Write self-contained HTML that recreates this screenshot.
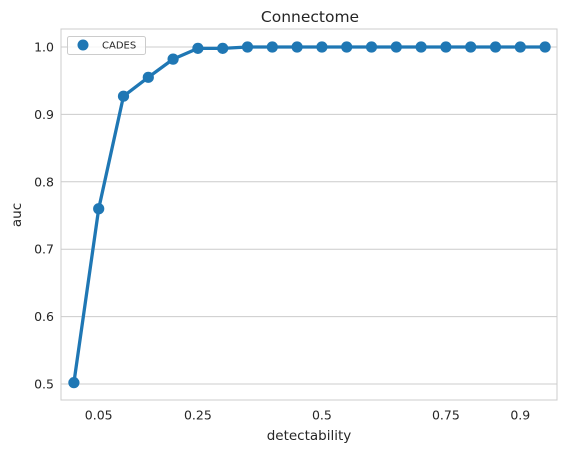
<!DOCTYPE html>
<html><head><meta charset="utf-8"><style>
body{margin:0;background:#fff;}
svg text{font-family:"DejaVu Sans","Liberation Sans",sans-serif;fill:#262626;}
</style></head><body>
<svg id="chart" width="567" height="453">
<text x="310" y="22" font-size="15.5" text-anchor="middle">Connectome</text>
<text x="309" y="440" font-size="13.5" text-anchor="middle">detectability</text>
<text transform="translate(21,215) rotate(-90)" font-size="13.5" text-anchor="middle">auc</text>
<g id="grid"></g>
<rect x="61" y="29" width="496" height="371" fill="none" stroke="#cccccc" stroke-width="1"/>
<g id="series"></g>
<g>
<rect x="67.5" y="36.5" width="78" height="18" rx="2" fill="#fff" fill-opacity="0.8" stroke="#cccccc"/>
<circle cx="83" cy="45" r="5.5" fill="#1f77b4"/>
<text x="102" y="48.5" font-size="10">CADES</text>
</g>
</svg>
<script>
const categories=[0.0,0.05,0.1,0.15,0.2,0.25,0.3,0.35,0.4,0.45,0.5,0.55,0.6,0.65,0.7,0.75,0.8,0.85,0.9,0.95];
const aucValues=[0.502,0.76,0.927,0.955,0.982,0.998,0.998,1.0,1.0,1.0,1.0,1.0,1.0,1.0,1.0,1.0,1.0,1.0,1.0,1.0];
const xTickLabels=["0.05","0.25","0.5","0.75","0.9"];
const xTickIndex=[1,5,10,15,18];
const yTicks=[0.5,0.6,0.7,0.8,0.9,1.0];
const NS="http://www.w3.org/2000/svg";
const L=61.5,R=557.5;
const step=(R-L)/categories.length;
function xPos(i){return L+step*(i+0.5);}
function yPos(v){return 384-(v-0.5)*(337/0.5);}
const grid=document.getElementById('grid'),series=document.getElementById('series'),svg=document.getElementById('chart');
yTicks.forEach(t=>{
 const y=yPos(t);
 const ln=document.createElementNS(NS,'line');
 ln.setAttribute('x1',61);ln.setAttribute('x2',557);ln.setAttribute('y1',y);ln.setAttribute('y2',y);
 ln.setAttribute('stroke','#cccccc');
 
 
 grid.appendChild(ln);
 const tx=document.createElementNS(NS,'text');
 tx.setAttribute('x',54);tx.setAttribute('y',y+4.5);tx.setAttribute('font-size','12.5');tx.setAttribute('text-anchor','end');
 tx.textContent=t.toFixed(1);
 
 
 svg.appendChild(tx);
});
xTickIndex.forEach((idx,k)=>{
 const tx=document.createElementNS(NS,'text');
 tx.setAttribute('x',xPos(idx));tx.setAttribute('y',419.5);tx.setAttribute('font-size','12.5');tx.setAttribute('text-anchor','middle');
 tx.textContent=xTickLabels[k];
 
 
 svg.appendChild(tx);
});
const pl=document.createElementNS(NS,'polyline');
pl.setAttribute('points',aucValues.map((v,i)=>xPos(i)+','+yPos(v)).join(' '));
pl.setAttribute('fill','none');pl.setAttribute('stroke','#1f77b4');pl.setAttribute('stroke-width','3.3');pl.setAttribute('stroke-linejoin','round');


series.appendChild(pl);
aucValues.forEach((v,i)=>{
 const c=document.createElementNS(NS,'circle');
 c.setAttribute('cx',xPos(i));c.setAttribute('cy',yPos(v));c.setAttribute('r','5.6');c.setAttribute('fill','#1f77b4');
 
 
 series.appendChild(c);
});
</script>
</body></html>
